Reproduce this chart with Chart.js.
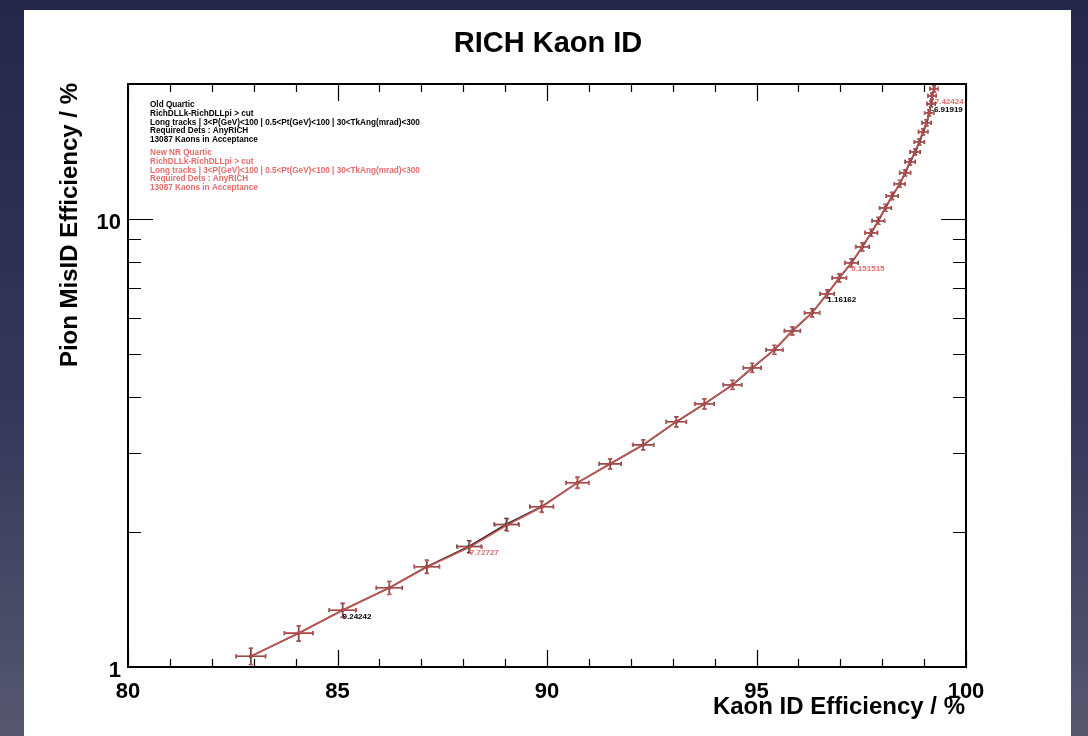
<!DOCTYPE html>
<html>
<head>
<meta charset="utf-8">
<script src="https://cdn.jsdelivr.net/npm/chart.js@4.4.1/dist/chart.umd.min.js"></script>
<style>
html,body{margin:0;padding:0;width:1088px;height:736px;overflow:hidden;
  background:linear-gradient(180deg,#24264a 0%,#35375a 55%,#56576e 100%);}
#panel{position:absolute;left:24px;top:10px;width:1047px;height:726px;background:#fff;}
#c{position:absolute;left:0;top:0;}
</style>
</head>
<body>
<div id="panel"></div>
<canvas id="c" width="1088" height="736"></canvas>
<script>
// Kaon ID efficiency (%) vs pion misID efficiency (%), one point per DLL cut
const newEff = [82.94,84.08,85.13,86.23,87.14,88.16,89.05,89.88,90.72,91.50,92.29,93.08,93.75,94.42,94.89,95.42,95.85,96.32,96.68,96.97,97.26,97.52,97.73,97.90,98.07,98.23,98.42,98.54,98.66,98.78,98.88,98.97,99.05,99.12,99.16,99.19,99.24];
const newMis = [1.058,1.191,1.340,1.501,1.672,1.853,2.075,2.276,2.575,2.839,3.130,3.523,3.864,4.261,4.650,5.101,5.623,6.169,6.801,7.384,7.976,8.660,9.307,9.897,10.58,11.25,11.97,12.67,13.41,14.11,14.85,15.64,16.38,17.24,18.06,18.82,19.51];
const newEffErr = [0.35,0.34,0.32,0.31,0.30,0.29,0.29,0.28,0.27,0.26,0.25,0.24,0.23,0.22,0.21,0.20,0.19,0.18,0.17,0.17,0.16,0.16,0.15,0.15,0.14,0.14,0.13,0.13,0.12,0.12,0.12,0.11,0.11,0.11,0.10,0.10,0.10];
const newMisErr = [0.044,0.046,0.048,0.050,0.056,0.057,0.064,0.064,0.073,0.073,0.080,0.091,0.099,0.099,0.108,0.118,0.116,0.127,0.140,0.152,0.164,0.178,0.167,0.178,0.190,0.202,0.215,0.195,0.207,0.218,0.229,0.241,0.253,0.266,0.278,0.290,0.301];

const oldEff = [82.93,84.07,85.12,86.24,87.13,88.14,89.03,89.87,90.73,91.51,92.30,93.09,93.76,94.43,94.90,95.43,95.86,96.33,96.69,96.98,97.27,97.53,97.74,97.91,98.08,98.24,98.42,98.55,98.67,98.79,98.89,98.98,99.06,99.12,99.17,99.19,99.24];
const oldMis = [1.056,1.189,1.338,1.503,1.675,1.858,2.082,2.280,2.579,2.842,3.133,3.527,3.866,4.262,4.652,5.104,5.625,6.172,6.803,7.386,7.978,8.662,9.309,9.899,10.58,11.25,11.97,12.67,13.41,14.11,14.85,15.64,16.38,17.24,18.06,18.82,19.51];
const oldEffErr = newEffErr.slice();
const oldMisErr = newMisErr.slice();

// DLL cut values written next to some points
const oldCutIdx = [2, 18, 34];
const oldCutText = ['9.24242', '1.16162', '-6.91919'];
const newCutIdx = [5, 20, 35];
const newCutText = ['7.72727', '0.151515', '-7.42424'];

const oldInfo = ['Old Quartic', 'RichDLLk-RichDLLpi > cut',
  'Long tracks | 3<P(GeV)<100 | 0.5<Pt(GeV)<100 | 30<TkAng(mrad)<300',
  'Required Dets : AnyRICH', '13087 Kaons in Acceptance'];
const newInfo = ['New NR Quartic', 'RichDLLk-RichDLLpi > cut',
  'Long tracks | 3<P(GeV)<100 | 0.5<Pt(GeV)<100 | 30<TkAng(mrad)<300',
  'Required Dets : AnyRICH', '13087 Kaons in Acceptance'];

const xMajor = [80, 85, 90, 95, 100];
const xTickLabels = ['80', '85', '90', '95', '100'];
const yMajor = [1, 10];
const yTickLabels = ['1', '10'];
const yMinor = [2, 3, 4, 5, 6, 7, 8, 9];

const RED = 'rgb(200,88,88)';
const RED_TEXT = 'rgb(226,108,108)';
const BLACK = '#1a1a1a';
const FONT = '"Liberation Sans", Arial, Helvetica, sans-serif';

const rootStyle = {
    id: 'rootStyle',
    afterDatasetsDraw(chart){
        const ctx = chart.ctx, xs = chart.scales.x, ys = chart.scales.y;
        // error bars, black graph under the red one
        [1, 0].forEach(di => {
            const ds = chart.data.datasets[di];
            ctx.save();
            ctx.strokeStyle = ds.borderColor;
            ctx.lineWidth = 1.3;
            ds.data.forEach((p, i) => {
                const px = xs.getPixelForValue(p.x), py = ys.getPixelForValue(p.y);
                const x0 = xs.getPixelForValue(p.x - ds.errX[i]), x1 = xs.getPixelForValue(p.x + ds.errX[i]);
                const y0 = ys.getPixelForValue(p.y - ds.errY[i]), y1 = ys.getPixelForValue(p.y + ds.errY[i]);
                ctx.beginPath();
                ctx.moveTo(x0, py); ctx.lineTo(x1, py);
                ctx.moveTo(px, y0); ctx.lineTo(px, y1);
                ctx.moveTo(x0, py-2); ctx.lineTo(x0, py+2);
                ctx.moveTo(x1, py-2); ctx.lineTo(x1, py+2);
                ctx.moveTo(px-2, y0); ctx.lineTo(px+2, y0);
                ctx.moveTo(px-2, y1); ctx.lineTo(px+2, y1);
                ctx.stroke();
            });
            ctx.restore();
        });
    },
    afterDraw(chart){
        const ctx = chart.ctx, xs = chart.scales.x, ys = chart.scales.y;
        const a = chart.chartArea;
        ctx.save();
        ctx.strokeStyle = '#000';
        ctx.lineWidth = 2;
        ctx.strokeRect(a.left, a.top, a.right - a.left, a.bottom - a.top);

        // x ticks, bottom and top, inside the frame
        ctx.lineWidth = 1.2;
        ctx.beginPath();
        for(let v = 80; v <= 100; v++){
            const px = Math.round(xs.getPixelForValue(v)) + 0.5;
            const len = xMajor.includes(v) ? 17 : 8;
            ctx.moveTo(px, a.bottom); ctx.lineTo(px, a.bottom - len);
            ctx.moveTo(px, a.top); ctx.lineTo(px, a.top + len);
        }
        // y ticks, left and right
        yMajor.concat(yMinor).forEach(v => {
            const py = Math.round(ys.getPixelForValue(v)) + 0.5;
            const len = yMajor.includes(v) ? 25 : 13;
            ctx.moveTo(a.left, py); ctx.lineTo(a.left + len, py);
            ctx.moveTo(a.right, py); ctx.lineTo(a.right - len, py);
        });
        ctx.stroke();

        // tick labels
        ctx.fillStyle = '#000';
        ctx.font = 'bold 22px ' + FONT;
        ctx.textAlign = 'center';
        ctx.textBaseline = 'alphabetic';
        xMajor.forEach((v, i) => ctx.fillText(xTickLabels[i], xs.getPixelForValue(v), a.bottom + 31));
        ctx.textAlign = 'right';
        yMajor.forEach((v, i) => ctx.fillText(yTickLabels[i], a.left - 7, ys.getPixelForValue(v) + 10));

        // axis titles
        ctx.font = 'bold 24px ' + FONT;
        ctx.textAlign = 'right';
        ctx.fillText('Kaon ID Efficiency / %', a.right - 1, a.bottom + 47);
        ctx.save();
        ctx.translate(77, a.top - 1);
        ctx.rotate(-Math.PI / 2);
        ctx.textAlign = 'right';
        ctx.fillText('Pion MisID Efficiency / %', 0, 0);
        ctx.restore();

        // title
        ctx.font = 'bold 29px ' + FONT;
        ctx.textAlign = 'center';
        ctx.fillText('RICH Kaon ID', 548, 52);

        // info text
        ctx.font = 'bold 8.2px ' + FONT;
        ctx.textAlign = 'left';
        oldInfo.forEach((t, i) => ctx.fillText(t, 150, 107 + i * 8.8));
        ctx.fillStyle = RED_TEXT;
        newInfo.forEach((t, i) => ctx.fillText(t, 150, 155 + i * 8.8));

        // cut value annotations
        ctx.font = 'bold 8px ' + FONT;
        ctx.textBaseline = 'top';
        ctx.fillStyle = '#000';
        oldCutIdx.forEach((k, i) => ctx.fillText(oldCutText[i], xs.getPixelForValue(oldEff[k]), ys.getPixelForValue(oldMis[k]) + 2));
        ctx.fillStyle = RED_TEXT;
        newCutIdx.forEach((k, i) => ctx.fillText(newCutText[i], xs.getPixelForValue(newEff[k]), ys.getPixelForValue(newMis[k]) + 2));
        ctx.restore();
    }
};

new Chart(document.getElementById('c'), {
    type: 'scatter',
    data: {
        datasets: [
            {
                label: 'New NR Quartic',
                data: newEff.map((x, i) => ({x: x, y: newMis[i]})),
                errX: newEffErr, errY: newMisErr,
                showLine: true, borderColor: RED, borderWidth: 1.6,
                pointRadius: 1.8, pointBackgroundColor: 'rgb(185,70,70)', pointBorderWidth: 0,
                order: 1
            },
            {
                label: 'Old Quartic',
                data: oldEff.map((x, i) => ({x: x, y: oldMis[i]})),
                errX: oldEffErr, errY: oldMisErr,
                showLine: true, borderColor: BLACK, borderWidth: 1.6,
                pointRadius: 1.8, pointBackgroundColor: BLACK, pointBorderWidth: 0,
                order: 2
            }
        ]
    },
    options: {
        responsive: false,
        animation: false,
        devicePixelRatio: 1,
        layout: {padding: {left: 128, top: 84, right: 122, bottom: 69}},
        plugins: {legend: {display: false}, tooltip: {enabled: false}},
        scales: {
            x: {type: 'linear', min: 80, max: 100,
                ticks: {display: false}, grid: {display: false}, border: {display: false},
                afterFit(s){ s.height = 0; }},
            y: {type: 'logarithmic', min: 1, max: 20,
                ticks: {display: false}, grid: {display: false}, border: {display: false},
                afterFit(s){ s.width = 0; }}
        }
    },
    plugins: [rootStyle]
});
</script>
</body>
</html>
